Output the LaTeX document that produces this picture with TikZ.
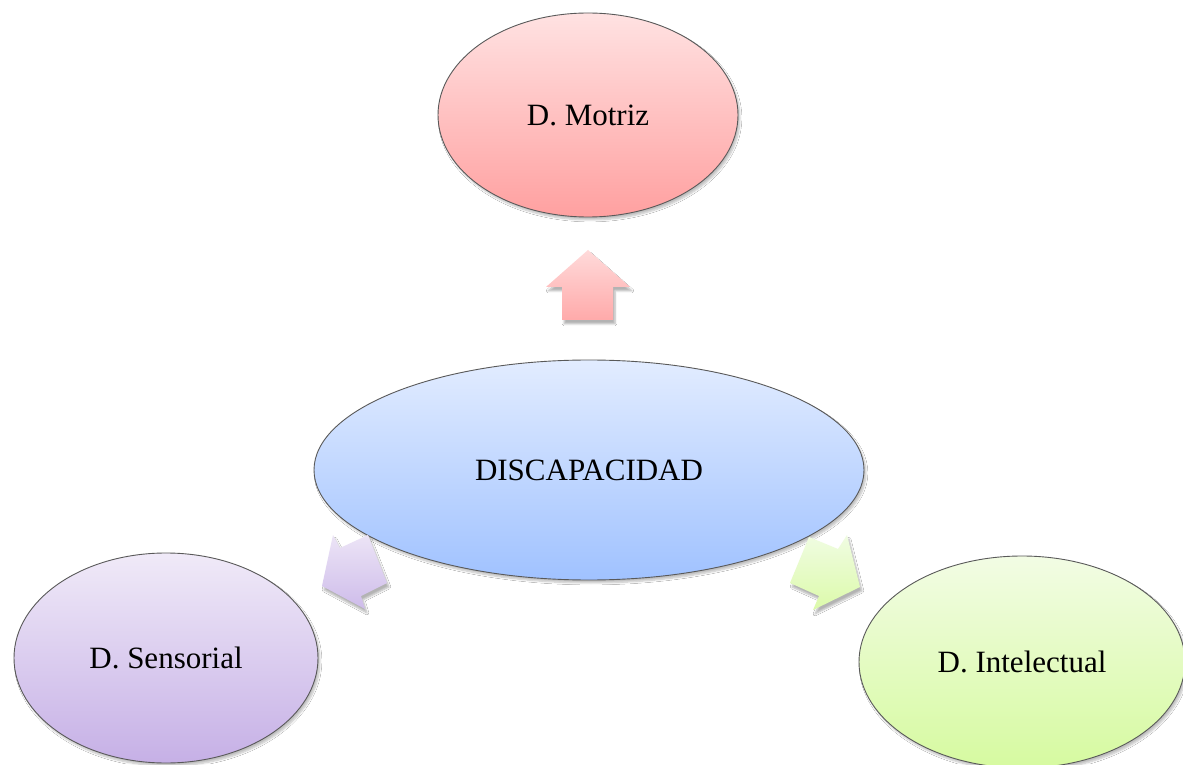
\documentclass[tikz,border=0pt]{standalone}
\usepackage{fontspec}
\setmainfont{Liberation Serif}
\usetikzlibrary{shapes.geometric,shadows.blur}
\tikzset{
  bubble/.style={ellipse, draw=black!65, line width=0.9pt, inner sep=0pt,
    font=\fontsize{31}{36}\selectfont,
    blur shadow={shadow xshift=2pt, shadow yshift=-3pt, shadow blur steps=6, shadow opacity=25}},
  blockarrow/.style={draw=none,
    blur shadow={shadow xshift=2pt, shadow yshift=-4pt, shadow blur steps=6, shadow opacity=30}}
}
\begin{document}
\begin{tikzpicture}[x=1pt,y=1pt]
\useasboundingbox (0,0) rectangle (1183,764);
\fill[white] (0,0) rectangle (1183,764);
% ellipses (y = 764 - pixel y)
\node[bubble, minimum width=300pt, minimum height=204pt,
  top color={rgb,255:red,255;green,226;blue,226}, bottom color={rgb,255:red,255;green,160;blue,160}]
  (motriz) at (588,649) {D. Motriz};
\node[bubble, minimum width=550pt, minimum height=220pt,
  top color={rgb,255:red,226;green,236;blue,255}, bottom color={rgb,255:red,160;green,194;blue,255}]
  (disc) at (589,294) {DISCAPACIDAD};
\node[bubble, minimum width=304pt, minimum height=210pt,
  top color={rgb,255:red,240;green,234;blue,248}, bottom color={rgb,255:red,198;green,176;blue,230}]
  (sens) at (166,106) {D. Sensorial};
\node[bubble, minimum width=326pt, minimum height=212pt,
  top color={rgb,255:red,242;green,252;blue,228}, bottom color={rgb,255:red,214;green,250;blue,160}]
  (intel) at (1022,102) {D. Intelectual};
% block arrows
\path[blockarrow, top color={rgb,255:red,255;green,218;blue,218}, bottom color={rgb,255:red,255;green,170;blue,170}]
  (588,514) -- (630,477) -- (613,477) -- (613,444) -- (562,444) -- (562,477) -- (546,477) -- cycle;
\path[blockarrow, top color={rgb,255:red,236;green,228;blue,246}, bottom color={rgb,255:red,206;green,188;blue,234}]
  (333,229) -- (340,216) -- (368,229) -- (387,181) -- (361,168) -- (365,155) -- (322,178) -- cycle;
\path[blockarrow, top color={rgb,255:red,240;green,252;blue,226}, bottom color={rgb,255:red,220;green,250;blue,170}]
  (809,227) -- (838,215) -- (847,229) -- (860,177) -- (813,154) -- (819,168) -- (790,181) -- cycle;
\end{tikzpicture}
\end{document}
